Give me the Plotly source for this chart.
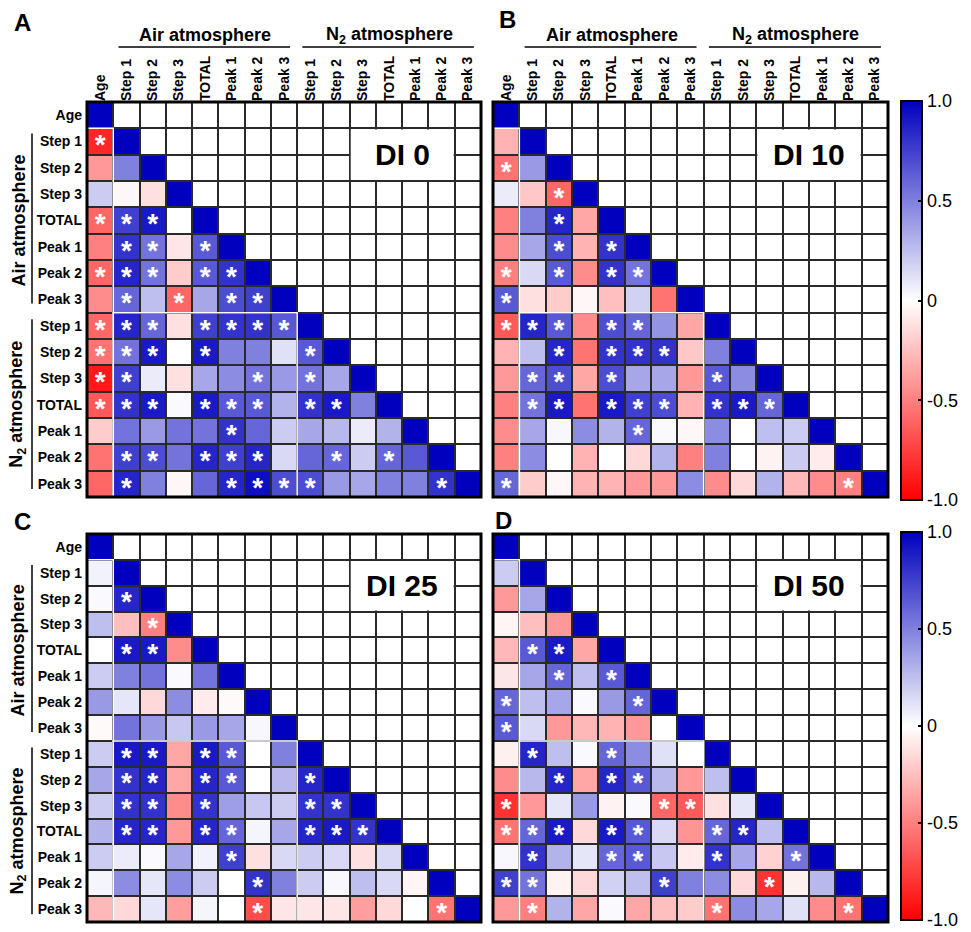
import plotly.graph_objects as go

# ---------------- data ----------------
labels = ["Age", "Step 1", "Step 2", "Step 3", "TOTAL", "Peak 1", "Peak 2", "Peak 3",
          "Step 1", "Step 2", "Step 3", "TOTAL", "Peak 1", "Peak 2", "Peak 3"]
group_labels = ["Air atmosphere", "N<sub>2</sub> atmosphere"]
panel_titles = ["DI 0", "DI 10", "DI 25", "DI 50"]
panel_letters = ["A", "B", "C", "D"]
cbar_tickvals = [-1, -0.5, 0, 0.5, 1]
cbar_ticktext = ["-1.0", "-0.5", "0", "0.5", "1.0"]

# lower-triangle correlation values (row i has i values, diagonal = 1)
di0_r = [
    [],
    [-0.85],
    [-0.4, 0.5],
    [0.2, -0.03, -0.12],
    [-0.6, 0.75, 0.9, 0.0],
    [-0.5, 0.8, 0.55, -0.1, 0.65],
    [-0.6, 0.85, 0.55, -0.2, 0.65, 0.8],
    [-0.45, 0.6, 0.25, -0.6, 0.35, 0.7, 0.75],
    [-0.6, 0.85, 0.6, -0.12, 0.75, 0.8, 0.8, 0.65],
    [-0.55, 0.55, 0.9, 0.0, 0.9, 0.5, 0.5, 0.12, 0.65],
    [-0.9, 0.75, 0.08, -0.12, 0.35, 0.45, 0.55, 0.4, 0.55, 0.35],
    [-0.65, 0.8, 0.9, 0.02, 0.9, 0.65, 0.65, 0.3, 0.8, 0.9, 0.5],
    [-0.2, 0.55, 0.4, 0.55, 0.55, 0.8, 0.6, 0.2, 0.35, 0.28, 0.08, 0.3],
    [-0.55, 0.75, 0.7, 0.55, 0.85, 0.75, 0.85, 0.15, 0.6, 0.6, 0.2, 0.6, 0.65],
    [-0.6, 0.85, 0.5, -0.03, 0.6, 0.85, 0.95, 0.7, 0.7, 0.4, 0.35, 0.5, 0.5, 0.8],
]
di0_sig = ["", "*", "..", "...", "***.", ".**.*", "***.**", ".*.*.**", "***.****",
           "***.*...*", "**....*.*.", "***.***.**.", ".....*......",
           ".**.***..*.*.", ".*...****....*"]

di10_r = [
    [],
    [-0.3],
    [-0.55, 0.4],
    [0.08, -0.22, -0.6],
    [-0.5, 0.5, 0.85, -0.35],
    [-0.45, 0.35, 0.7, -0.3, 0.8],
    [-0.5, 0.15, 0.65, -0.45, 0.8, 0.55],
    [0.65, -0.12, -0.2, -0.03, -0.25, 0.18, -0.55],
    [-0.65, 0.85, 0.65, -0.45, 0.7, 0.6, 0.42, -0.35],
    [-0.3, 0.25, 0.85, -0.55, 0.8, 0.8, 0.8, -0.22, 0.5],
    [-0.4, 0.6, 0.7, -0.35, 0.7, 0.35, 0.35, -0.4, 0.65, 0.45],
    [-0.5, 0.55, 0.9, -0.55, 0.9, 0.75, 0.7, -0.3, 0.8, 0.9, 0.6],
    [-0.45, 0.35, 0.03, 0.45, 0.3, 0.6, 0.02, -0.03, 0.45, 0.0, 0.25, 0.2],
    [-0.5, 0.45, 0.0, -0.3, 0.0, -0.15, 0.3, -0.5, 0.5, 0.0, -0.05, 0.2, -0.08],
    [0.6, -0.2, -0.03, -0.3, -0.3, -0.4, -0.4, 0.45, -0.45, -0.15, 0.3, -0.28, -0.45, -0.5],
]
di10_sig = ["", ".", "*.", "..*", "..*.", "..*.*", "*.*.**", "*......", "***.**..",
            "..*.***..", ".**.*...*.", ".**.***.***", ".....*......",
            ".............", "*............*"]

di25_r = [
    [],
    [0.05],
    [0.02, 0.85],
    [0.25, -0.25, -0.5],
    [0.0, 0.9, 0.9, -0.45],
    [0.2, 0.5, 0.55, 0.02, 0.55],
    [0.4, 0.1, -0.15, 0.45, -0.08, -0.02],
    [-0.02, 0.55, 0.4, 0.22, 0.4, 0.35, 0.03],
    [0.2, 0.9, 0.9, -0.35, 0.9, 0.65, 0.0, 0.5],
    [0.35, 0.8, 0.85, -0.35, 0.85, 0.65, 0.0, 0.28, 0.85],
    [0.2, 0.8, 0.8, -0.45, 0.8, 0.38, 0.22, 0.2, 0.8, 0.8],
    [0.3, 0.85, 0.85, -0.4, 0.85, 0.6, 0.04, 0.35, 0.85, 0.9, 0.8],
    [0.2, 0.08, 0.02, 0.35, 0.05, 0.75, -0.12, 0.15, 0.2, 0.15, -0.12, 0.15],
    [0.04, 0.45, 0.1, 0.45, 0.2, 0.0, 0.8, 0.5, 0.2, 0.03, 0.25, 0.15, -0.04],
    [-0.28, -0.15, 0.1, -0.38, 0.04, 0.0, -0.7, -0.1, -0.1, -0.1, -0.38, -0.15, 0.0, -0.55],
]
di25_sig = ["", ".", ".*", "..*", ".**.", ".....", "......", ".......", ".**.**..",
            ".**.**..*", ".**.*...**", ".**.**..***", ".....*......",
            "......*......", "......*......*"]

di50_r = [
    [],
    [0.2],
    [-0.4, 0.35],
    [-0.04, -0.25, -0.4],
    [-0.28, 0.65, 0.9, -0.35],
    [-0.1, 0.35, 0.6, 0.25, 0.65],
    [0.6, 0.25, 0.35, 0.02, 0.4, 0.6],
    [0.65, 0.15, -0.4, -0.28, -0.3, -0.4, 0.0],
    [-0.06, 0.85, 0.25, 0.02, 0.6, 0.45, 0.12, 0.0],
    [-0.45, 0.28, 0.85, -0.35, 0.85, 0.65, 0.28, -0.4, 0.25],
    [-0.8, -0.4, 0.1, 0.4, -0.05, 0.02, -0.6, -0.65, -0.12, 0.1],
    [-0.55, 0.6, 0.9, -0.15, 0.9, 0.65, 0.15, -0.42, 0.6, 0.85, 0.25],
    [0.03, 0.8, 0.3, 0.1, 0.6, 0.65, 0.22, -0.08, 0.8, 0.35, -0.18, 0.55],
    [0.75, 0.55, -0.05, -0.15, 0.18, 0.25, 0.75, 0.5, 0.45, -0.15, -0.8, -0.06, 0.28],
    [-0.4, -0.5, 0.3, -0.35, 0.02, -0.35, -0.25, -0.2, -0.55, 0.45, 0.35, 0.12, -0.45, -0.55],
]
di50_sig = ["", ".", "..", "...", ".**.", "..*.*", "*....*", "*......", ".*..*...",
            "..*.**...", "*.....**..", "***.**..**.", ".*..**..*..*",
            "**....*...*..", ".*......*....*"]

panel_values = [di0_r, di10_r, di25_r, di50_r]
panel_sig = [di0_sig, di10_sig, di25_sig, di50_sig]

# ---------------- styling / layout ----------------
W, H = 971, 932
FONT = "Arial, Liberation Sans, sans-serif"
# pixel boxes of the four heatmaps (x0, x1, y0, y1)
boxes = [(87, 481, 102, 497), (493, 888, 102, 497),
         (87, 481, 534, 922), (493, 888, 534, 922)]
# pixel positions of the panel letters (left x, centre y)
letter_pos = [(12, 22), (497, 20), (12, 521), (493, 520)]
colorscale = [[0.0, "rgb(255,0,0)"], [0.5, "rgb(255,255,255)"], [1.0, "rgb(0,0,190)"]]
N = len(labels)


def full_matrix(rows):
    z = []
    for i, r in enumerate(rows):
        z.append(list(r) + [1.0] + [None] * (N - i - 1))
    return z


fig = go.Figure()
layout = dict(width=W, height=H, margin=dict(l=0, r=0, t=0, b=0),
              paper_bgcolor="white", plot_bgcolor="#2a2a2a",
              font=dict(family=FONT, color="black"), showlegend=False)
shapes, annotations = [], []
idx = list(range(N))

for p in range(4):
    ax = "" if p == 0 else str(p + 1)
    xa, ya = "x" + ax, "y" + ax
    x0, x1, y0, y1 = boxes[p]
    # white background cells (blank upper triangle)
    fig.add_trace(go.Heatmap(z=[[0] * N for _ in range(N)], x=idx, y=idx,
                             colorscale=[[0, "white"], [1, "white"]], showscale=False,
                             xgap=2, ygap=2, hoverinfo="skip", xaxis=xa, yaxis=ya))
    z = full_matrix(panel_values[p])
    fig.add_trace(go.Heatmap(z=z, x=idx, y=idx, xgap=2, ygap=2,
                             coloraxis="coloraxis" if p < 2 else "coloraxis2",
                             xaxis=xa, yaxis=ya, hovertemplate="%{z}<extra></extra>"))
    # significance stars
    sx, sy = [], []
    for i, s in enumerate(panel_sig[p]):
        for j, c in enumerate(s):
            if c == "*":
                sx.append(j)
                sy.append(i + 0.22)
    fig.add_trace(go.Scatter(x=sx, y=sy, mode="text", text=["*"] * len(sx),
                             textfont=dict(family=FONT, size=28, color="white", weight="bold"),
                             hoverinfo="skip", xaxis=xa, yaxis=ya))

    top = p < 2
    left = p in (0, 2)
    layout["xaxis" + ax] = dict(domain=[x0 / W, x1 / W], range=[-0.5, N - 0.5],
                                showgrid=False, zeroline=False, side="top",
                                tickmode="array", tickvals=idx, ticktext=labels,
                                tickangle=-90, ticks="", showticklabels=top,
                                tickfont=dict(family=FONT, size=14, weight="bold"),
                                anchor=ya, fixedrange=True)
    layout["yaxis" + ax] = dict(domain=[1 - y1 / H, 1 - y0 / H], range=[N - 0.5, -0.5],
                                showgrid=False, zeroline=False,
                                tickmode="array", tickvals=idx, ticktext=labels,
                                ticks="", showticklabels=left, ticklabelstandoff=4,
                                tickfont=dict(family=FONT, size=14, weight="bold"),
                                anchor=xa, fixedrange=True)

    # white group outlines
    shapes.append(dict(type="rect", xref=xa, yref=ya, x0=-0.5, x1=0.5, y0=0.5, y1=N - 0.5,
                       line=dict(color="white", width=1.5), layer="above"))
    shapes.append(dict(type="rect", xref=xa, yref=ya, x0=0.5, x1=7.5, y0=7.5, y1=N - 0.5,
                       line=dict(color="white", width=1.5), layer="above"))
    # DI label box
    shapes.append(dict(type="rect", xref=xa, yref=ya, x0=9.54, x1=13.46, y0=0.54, y1=2.46,
                       fillcolor="white", line=dict(width=0), layer="above"))
    annotations.append(dict(text=panel_titles[p], xref=xa, yref=ya, x=11.5, y=1.5,
                            showarrow=False, font=dict(family=FONT, size=30, weight="bold")))
    # outer border
    shapes.append(dict(type="rect", xref=xa + " domain", yref=ya + " domain",
                       x0=0, x1=1, y0=0, y1=1, line=dict(color="black", width=3), layer="above"))
    # panel letter
    lx, ly = letter_pos[p]
    annotations.append(dict(text=panel_letters[p], xref="paper", yref="paper",
                            x=lx / W, y=1 - ly / H, xanchor="left", yanchor="middle",
                            showarrow=False, font=dict(family=FONT, size=24, weight="bold")))
    if top:
        for g, (c, a0, a1) in enumerate([(4, 0.7, 7.23), (11, 7.7, 14.23)]):
            annotations.append(dict(text=group_labels[g], xref=xa, yref="paper",
                                    x=c, y=1 - 35 / H, yanchor="middle", showarrow=False,
                                    font=dict(family=FONT, size=18, weight="bold")))
            shapes.append(dict(type="line", xref=xa, yref="paper", x0=a0, x1=a1,
                               y0=1 - 47 / H, y1=1 - 47 / H, line=dict(color="black", width=1.5)))
    if left:
        for g, (c, a0, a1) in enumerate([(4, 0.7, 7.15), (11, 7.75, 14.2)]):
            annotations.append(dict(text=group_labels[g], xref="paper", yref=ya,
                                    x=18 / W, y=c, xanchor="center", textangle=-90,
                                    showarrow=False,
                                    font=dict(family=FONT, size=18, weight="bold")))
            shapes.append(dict(type="line", xref="paper", yref=ya, x0=32 / W, x1=32 / W,
                               y0=a0, y1=a1, line=dict(color="black", width=1.5)))

for k, (cy0, cy1) in enumerate([(101, 500), (532, 920)]):
    key = "coloraxis" if k == 0 else "coloraxis2"
    layout[key] = dict(cmin=-1, cmax=1, colorscale=colorscale,
                       colorbar=dict(x=901 / W, xanchor="left", xpad=0,
                                     y=1 - (cy0 + cy1) / 2 / H, yanchor="middle", ypad=0,
                                     lenmode="pixels", len=cy1 - cy0,
                                     thicknessmode="pixels", thickness=21,
                                     outlinewidth=2, outlinecolor="black",
                                     tickmode="array", tickvals=cbar_tickvals,
                                     ticktext=cbar_ticktext, ticks="inside", ticklen=5,
                                     tickwidth=2, tickcolor="black",
                                     ticklabeloverflow="allow",
                                     tickfont=dict(family=FONT, size=18)))

layout["shapes"] = shapes
layout["annotations"] = annotations
fig.update_layout(**layout)
fig.write_html("out.html", config={"displayModeBar": False},
               post_script="document.body.style.margin='0px';")
